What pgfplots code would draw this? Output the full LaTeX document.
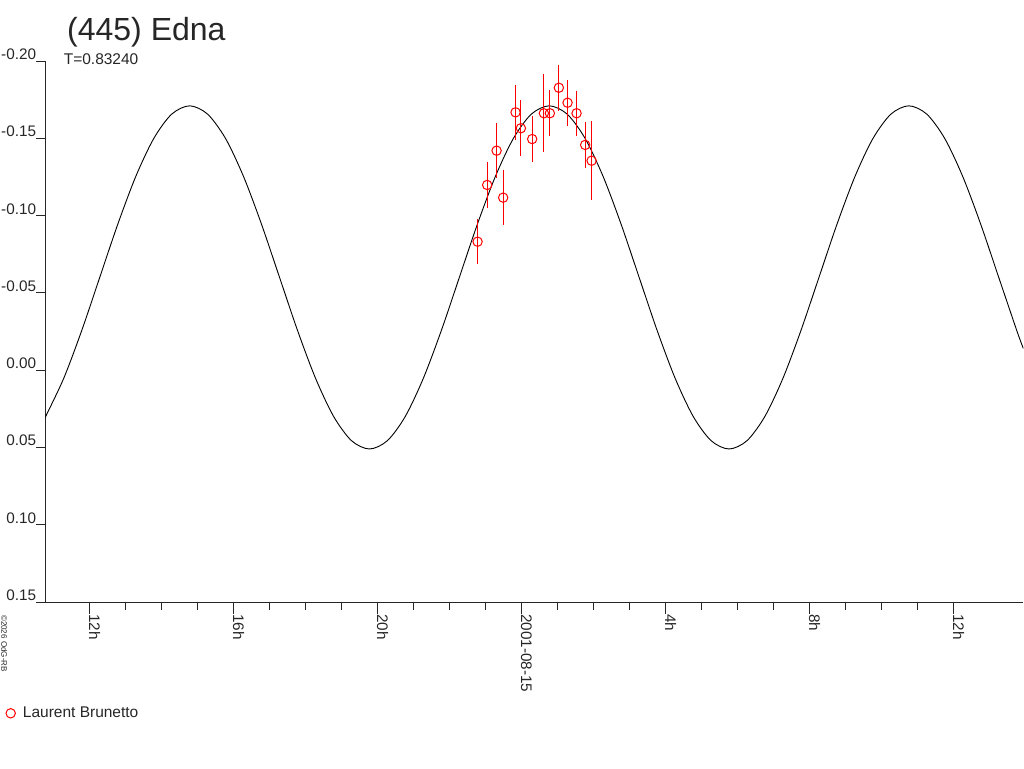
\documentclass[border=0pt]{standalone}
\usepackage{fontspec}
\setmainfont{Liberation Sans}
\usepackage{pgfplots}
\pgfplotsset{compat=1.18}
\definecolor{ptred}{RGB}{255,0,0}
\begin{document}
\begin{tikzpicture}
\path[use as bounding box] (0,0) rectangle (1024pt,768pt);
\begin{axis}[
  at={(45.3pt,166pt)}, anchor=south west,
  scale only axis, width=978pt, height=541pt,
  xmin=-13.22, xmax=13.95, ymin=-0.20, ymax=0.15, y dir=reverse,
  axis x line*=bottom, axis y line*=left,
  axis line style={-, line width=1pt, black!85},
  tick align=outside,
  xtick={-12,-8,-4,0,4,8,12},
  xticklabels={12h,16h,20h,2001-08-15,4h,8h,12h},
  minor x tick num=3,
  ytick=\empty,
  extra y ticks={-0.20,-0.15,-0.10,-0.05,0,0.05,0.10,0.15},
  extra y tick labels={-0.20,-0.15,-0.10,-0.05,0.00,0.05,0.10,0.15},
  extra y tick style={major tick length=9pt, tick align=outside},
  major tick length=12pt, minor tick length=8pt,
  tick style={black!85, line width=1pt},
  ticklabel style={font=\fontsize{15.3}{15.3}\selectfont, inner sep=0pt, text=black!85},
  xticklabel style={rotate=-90, anchor=base west},
  yticklabel style={anchor=base east, yshift=1.5pt},
  unbounded coords=jump,
  legend style={at={(-0.0409,-0.2057)}, anchor=west, draw=none, fill=none,
    inner sep=0pt, column sep=7pt, nodes={inner sep=0pt},
    font=\fontsize{15.5}{15.5}\selectfont, text=black!85},
  legend cell align=left,
  legend image code/.code={\draw[ptred, line width=1pt] (0pt,0pt) circle (4.7pt);},
]
\addplot[black, line width=0.9pt, smooth, forget plot] coordinates {
(-13.22,0.0308) (-13.206,0.0298) (-12.7065,0.0052) (-12.207,-0.0257) (-11.7075,-0.0600)
(-11.208,-0.0943) (-10.7085,-0.1252) (-10.209,-0.1498) (-9.7095,-0.1656) (-9.210,-0.1710)
(-8.7105,-0.1656) (-8.211,-0.1498) (-7.7115,-0.1252) (-7.212,-0.0943) (-6.7125,-0.0600)
(-6.213,-0.0257) (-5.7135,0.0052) (-5.214,0.0298) (-4.7145,0.0456) (-4.215,0.0510)
(-3.7155,0.0456) (-3.216,0.0298) (-2.7165,0.0052) (-2.217,-0.0257) (-1.7175,-0.0600)
(-1.218,-0.0943) (-0.7185,-0.1252) (-0.219,-0.1498) (0.2805,-0.1656) (0.780,-0.1710)
(1.2795,-0.1656) (1.779,-0.1498) (2.2785,-0.1252) (2.778,-0.0943) (3.2775,-0.0600)
(3.777,-0.0257) (4.2765,0.0052) (4.776,0.0298) (5.2755,0.0456) (5.775,0.0510)
(6.2745,0.0456) (6.774,0.0298) (7.2735,0.0052) (7.773,-0.0257) (8.2725,-0.0600)
(8.772,-0.0943) (9.2715,-0.1252) (9.771,-0.1498) (10.2705,-0.1656) (10.770,-0.1710)
(11.2695,-0.1656) (11.769,-0.1498) (12.2685,-0.1252) (12.768,-0.0943) (13.2675,-0.0600)
(13.767,-0.0257) (13.95,-0.0140)
};
% error bars (low, high ends), one segment per observation
\addplot[ptred, line width=1pt, forget plot] coordinates {
(-1.211,-0.0976) (-1.211,-0.0686) (-1.211,nan)
(-0.944,-0.1346) (-0.944,-0.1050) (-0.944,nan)
(-0.683,-0.1600) (-0.683,-0.1240) (-0.683,nan)
(-0.500,-0.1296) (-0.500,-0.0936) (-0.500,nan)
(-0.156,-0.1846) (-0.156,-0.1490) (-0.156,nan)
(-0.008,-0.1746) (-0.008,-0.1384) (-0.008,nan)
(0.306,-0.1643) (0.306,-0.1347) (0.306,nan)
(0.631,-0.1913) (0.631,-0.1411) (0.631,nan)
(0.797,-0.1810) (0.797,-0.1514) (0.797,nan)
(1.047,-0.1975) (1.047,-0.1679) (1.047,nan)
(1.289,-0.1878) (1.289,-0.1582) (1.289,nan)
(1.539,-0.1808) (1.539,-0.1516) (1.539,nan)
(1.778,-0.1604) (1.778,-0.1310) (1.778,nan)
(1.956,-0.1610) (1.956,-0.1100)
};
\addplot[ptred, only marks, mark=o, mark size=4.7pt, mark options={draw=ptred, line width=1pt, fill=none}]
coordinates {
(-1.211,-0.0831) (-0.944,-0.1198) (-0.683,-0.1420) (-0.500,-0.1116)
(-0.156,-0.1668) (-0.008,-0.1565) (0.306,-0.1495) (0.631,-0.1662)
(0.797,-0.1662) (1.047,-0.1827) (1.289,-0.1730) (1.539,-0.1662)
(1.778,-0.1457) (1.956,-0.1355)
};
\addlegendentry{Laurent Brunetto}
\end{axis}
\node[anchor=base west, inner sep=0pt, font=\fontsize{32}{32}\selectfont, text=black!85] at (67pt,727.4pt) {(445) Edna};
\node[anchor=base west, inner sep=0pt, font=\fontsize{15.5}{15.5}\selectfont, text=black!85] at (63.6pt,703pt) {T=0.83240};
\node[rotate=-90, anchor=base west, inner sep=0pt, font=\fontsize{8}{8}\selectfont, text=black!85] at (1.5pt,153pt) {©2026 OdG-RB};
\end{tikzpicture}
\end{document}
